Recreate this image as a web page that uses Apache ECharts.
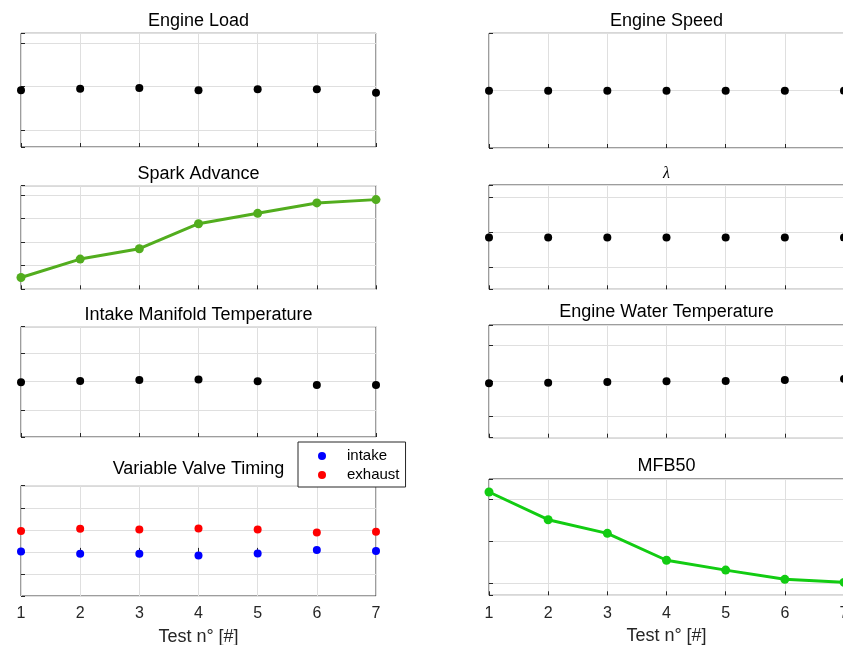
<!DOCTYPE html>
<html>
<head>
<meta charset="utf-8">
<script src="https://cdn.jsdelivr.net/npm/echarts@6/dist/echarts.min.js"></script>
<style>
  html, body { margin: 0; padding: 0; background: #fff; }
  #chart { width: 843px; height: 645px; }
</style>
</head>
<body>
<div id="chart"></div>
<script>
// test number on the x axis
const testNo = [1, 2, 3, 4, 5, 6, 7];

// values (no tick labels in the picture, units are guessed)
const engineLoad = [7.92, 7.95, 7.97, 7.92, 7.94, 7.94, 7.86];
const engineSpeed = [2000, 2000, 2000, 2000, 2000, 2000, 2000];
const sparkAdvance = [12.5, 16.4, 18.6, 23.9, 26.1, 28.3, 29.0];
const lambda = [0.997, 0.997, 0.997, 0.997, 0.997, 0.997, 0.997];
const intakeTemp = [24.98, 25.02, 25.06, 25.08, 25.01, 24.88, 24.88];
const waterTemp = [89.94, 89.95, 89.97, 89.99, 90.0, 90.03, 90.06];
const vvtIntake = [0.13, -0.9, -0.9, -1.66, -0.76, 0.9, 0.45];
const vvtExhaust = [9.41, 10.45, 10.14, 10.59, 10.14, 8.78, 9.1];
const mfb50 = [12.35, 11.03, 10.38, 9.1, 8.63, 8.19, 8.05];

// y limits and grid step of every panel
const yMin = [6.608, 1999, 10, 0.9672, 23.048, 88.412, -20, 7.43];
const yMax = [9.231, 2001, 31.95, 1.0271, 26.938, 91.569, 30, 12.97];
const yStep = [1, 1, 5, 0.02, 1, 1, 10, 2];

const titles = ['Engine Load', 'Engine Speed', 'Spark Advance', '\u03bb',
  'Intake Manifold Temperature', 'Engine Water Temperature', 'Variable Valve Timing', 'MFB50'];
const xLabel = 'Test n\u00b0 [#]';

const pairs = (arr) => testNo.map((t, i) => [t, arr[i]]);

// panel boxes
const boxes = [
  { left: 21, top: 33.3, width: 355, height: 113.7 },
  { left: 489, top: 33.3, width: 355, height: 114.7 },
  { left: 21, top: 185.7, width: 355, height: 103.6 },
  { left: 489, top: 185, width: 355, height: 104.3 },
  { left: 21, top: 326.7, width: 355, height: 110.3 },
  { left: 489, top: 325, width: 355, height: 112.7 },
  { left: 21, top: 485.7, width: 355, height: 110.3 },
  { left: 489, top: 479, width: 355, height: 116.3 }
];
const titleTop = [11.7, 12.3, 165, 166, 306, 303.4, 460, 456.7];

const axisDark = '#262626';
const gridGray = '#dfdfdf';
const font = 'Liberation Sans, Arial, sans-serif';

const grid = boxes.map(b => Object.assign({
  show: true, borderColor: '#3a3a3a', borderWidth: 1, backgroundColor: '#fff',
  outerBoundsMode: 'none', containLabel: false
}, b));

const xAxis = boxes.map((b, i) => ({
  type: 'value', gridIndex: i, min: 1, max: 7, interval: 1,
  axisLine: { show: false },
  axisTick: { show: true, inside: true, length: 4, lineStyle: { color: axisDark } },
  axisLabel: { show: i >= 6, margin: 10, fontSize: 16, color: axisDark, fontFamily: font,
    showMinLabel: true, showMaxLabel: true, hideOverlap: false },
  splitLine: { show: true, lineStyle: { color: gridGray, width: 1 } },
  name: i >= 6 ? xLabel : '',
  nameLocation: 'middle', nameGap: 32,
  nameTextStyle: { fontSize: 18, color: axisDark, fontFamily: font }
}));

const yAxis = boxes.map((b, i) => ({
  type: 'value', gridIndex: i, min: yMin[i], max: yMax[i],
  minInterval: yStep[i], maxInterval: yStep[i], splitNumber: 3,
  axisLine: { show: false },
  axisTick: { show: true, inside: true, length: 4, lineStyle: { color: axisDark } },
  axisLabel: { show: false },
  splitLine: { show: true, lineStyle: { color: gridGray, width: 1 } }
}));

const title = titles.map((t, i) => ({
  text: t,
  left: i % 2 === 0 ? 198.5 : 666.5,
  top: titleTop[i],
  textAlign: 'center', textVerticalAlign: 'top', padding: 0,
  textStyle: i === 3
    ? { fontSize: 16, fontWeight: 'normal', fontStyle: 'italic', color: '#000', fontFamily: 'Liberation Serif, serif' }
    : { fontSize: 18, fontWeight: 'normal', color: '#000', fontFamily: font }
}));

const dots = (name, arr, idx, color) => ({
  name: name, type: 'scatter', xAxisIndex: idx, yAxisIndex: idx,
  data: pairs(arr), symbol: 'circle', symbolSize: 8,
  itemStyle: { color: color, opacity: 1 }, z: 5
});
const curve = (arr, idx, color) => ({
  type: 'line', xAxisIndex: idx, yAxisIndex: idx,
  data: pairs(arr), symbol: 'circle', symbolSize: 9, showSymbol: true,
  lineStyle: { color: color, width: 3 }, itemStyle: { color: color, opacity: 1 }, z: 5
});

const option = {
  backgroundColor: '#fff',
  animation: false,
  title: title,
  grid: grid,
  xAxis: xAxis,
  yAxis: yAxis,
  legend: {
    data: ['intake', 'exhaust'],
    orient: 'vertical', left: 298, top: 442,
    padding: [5, 6, 3, 20], itemGap: 1,
    itemWidth: 8, itemHeight: 8, icon: 'circle',
    backgroundColor: '#fff', borderColor: axisDark, borderWidth: 1, borderRadius: 0,
    itemStyle: { opacity: 1 },
    textStyle: { fontSize: 15, lineHeight: 18, color: '#000', fontFamily: font, padding: [0, 0, 0, 16] },
    z: 10
  },
  series: [
    dots('load', engineLoad, 0, '#000'),
    dots('speed', engineSpeed, 1, '#000'),
    curve(sparkAdvance, 2, '#52ad1e'),
    dots('lambda', lambda, 3, '#000'),
    dots('tman', intakeTemp, 4, '#000'),
    dots('twater', waterTemp, 5, '#000'),
    dots('intake', vvtIntake, 6, '#0000ff'),
    dots('exhaust', vvtExhaust, 6, '#ff0000'),
    curve(mfb50, 7, '#12cc12')
  ]
};

const chart = echarts.init(document.getElementById('chart'));
chart.setOption(option);
</script>
</body>
</html>
